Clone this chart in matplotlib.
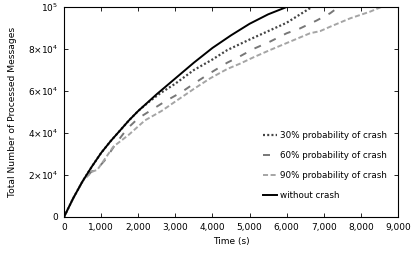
import numpy as np
import matplotlib.pyplot as plt
from matplotlib.ticker import FuncFormatter

# Time (s) and processed messages
t_none = [0, 250, 500, 750, 1000, 1250, 1500, 1750, 2000, 2500, 3000, 3500, 4000, 4500, 5000, 5500, 6000]
m_none = [0, 9000, 17000, 24000, 30500, 36000, 41000, 46000, 50500, 58500, 66000, 73500, 80500, 86500, 92000, 96500, 100000]

t_30 = [0, 250, 500, 750, 1000, 1250, 1500, 1750, 2000, 2300, 2600, 3000, 3500, 4000, 4400, 5000, 5500, 6000, 6680]
m_30 = [0, 9000, 17000, 24000, 30500, 36000, 41000, 46000, 50500, 55000, 59000, 63500, 70000, 75000, 79500, 84500, 88500, 92500, 100000]

t_60 = [0, 250, 500, 750, 850, 1100, 1400, 1700, 2000, 2360, 2720, 3170, 3500, 3935, 4400,
        4740, 5100, 5550, 6000, 6360, 6800, 7170, 7400]
m_60 = [0, 9000, 17000, 21800, 22000, 27000, 35000, 42000, 47000, 51000, 55000, 59500, 63500, 68500, 73500,
        76500, 80000, 83500, 87500, 89800, 93500, 97000, 100000]

t_90 = [0, 250, 500, 750, 900, 1330, 1735, 2180, 2630, 3000, 3500, 3935, 4400, 4740, 5100,
        5550, 6090, 6630, 6900, 7170, 7710, 8250, 8550]
m_90 = [0, 9000, 17000, 21500, 22500, 33500, 39000, 46000, 50500, 55000, 61000, 66000, 70500, 73000, 76000,
        79500, 83500, 87500, 88500, 90600, 94600, 97800, 100000]

labels = ['30% probability of crash', '60% probability of crash',
          '90% probability of crash', 'without crash']

plt.rcParams['font.family'] = 'DejaVu Sans'
plt.rcParams['font.size'] = 6.5

fig = plt.figure(figsize=(4.15, 2.58), dpi=100)
ax = fig.add_axes([64/415, 41/258, 334/415, 210/258])

ax.plot(t_30, m_30, color='#444444', linestyle=(0, (0.9, 1.0)), linewidth=1.6, label=labels[0])
ax.plot(t_60, m_60, color='#777777', linestyle=(0, (3.6, 4.8)), linewidth=1.4, label=labels[1])
ax.plot(t_90, m_90, color='#a5a5a5', linestyle=(0, (2.6, 1.3)), linewidth=1.4, label=labels[2])
ax.plot(t_none, m_none, color='black', linewidth=1.4, label=labels[3])

ax.set_xlim(0, 9000)
ax.set_ylim(0, 100000)
ax.set_xticks(range(0, 9001, 1000))
ax.set_yticks([0, 20000, 40000, 60000, 80000, 100000])
ax.xaxis.set_major_formatter(FuncFormatter(lambda v, p: f'{int(v):,}'))
ylab = {0: '0', 20000: r'2×10$^4$', 40000: r'4×10$^4$', 60000: r'6×10$^4$',
        80000: r'8×10$^4$', 100000: r'10$^5$'}
ax.yaxis.set_major_formatter(FuncFormatter(lambda v, p: ylab.get(int(round(v)), '')))
ax.tick_params(direction='in', length=3, width=0.6, top=True, right=True, pad=4)
for s in ax.spines.values():
    s.set_linewidth(0.8)

ax.set_xlabel('Time (s)', labelpad=4)
ax.set_ylabel('Total Number of Processed Messages', labelpad=8, fontsize=6.6)

leg = ax.legend(loc='lower right', frameon=False, handlelength=1.6, handletextpad=0.3,
                labelspacing=1.25, bbox_to_anchor=(0.99, 0.045), fontsize=6.3)

plt.savefig('out.png', dpi=100)
